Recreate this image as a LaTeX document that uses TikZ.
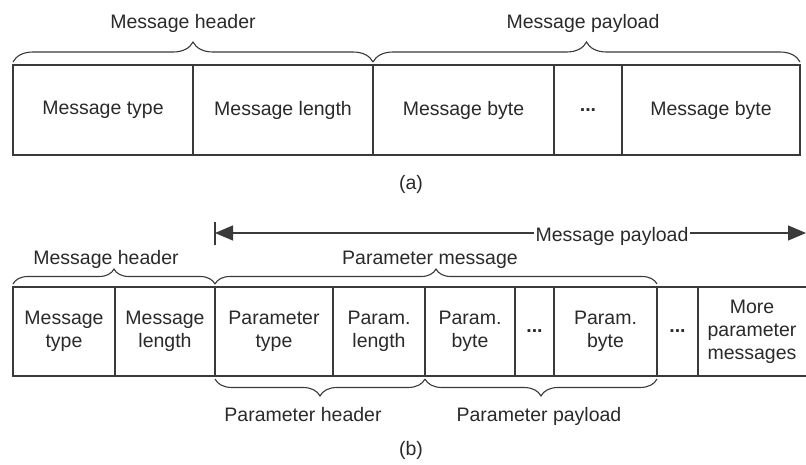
\documentclass[tikz,border=0pt]{standalone}
\usepackage{fontspec}
\setmainfont{Liberation Sans}
\usetikzlibrary{decorations.pathreplacing,arrows.meta}
\definecolor{ink}{HTML}{2A2A2A}
\definecolor{lineink}{HTML}{3A3A3A}
\begin{document}
\begin{tikzpicture}[x=1pt,y=-1pt,
  every node/.style={font=\fontsize{19.5}{23}\selectfont, text=ink},
  cell/.style={draw=lineink, line width=1.2pt, inner sep=0pt, outer sep=0pt, align=center},
  cellA/.style={cell, minimum height=90},
  cellB/.style={cell, minimum height=89},
  curly/.style={draw=lineink, line width=1.1pt, decorate,
    decoration={brace, amplitude=#1, raise=3pt, aspect=0.5}},
  lbl/.style={anchor=base, inner sep=0pt}
]
\useasboundingbox[fill=white] (0,0) rectangle (806,464);

% ---------- (a) ----------
\node[cellA, minimum width=180] (a1) at (103,110) {Message type};
\node[cellA, minimum width=180] (a2) at (283,110) {Message length};
\node[cellA, minimum width=181] (a3) at (463.5,110) {Message byte};
\node[cellA, minimum width=68]  (a4) at (588,110) {\textbf{...}};
\node[cellA, minimum width=178] (a5) at (711,110) {Message byte};

\draw[curly=20pt] (a1.north west) -- (a2.north east);
\draw[curly=20pt] (a3.north west) -- (a5.north east);
\node[lbl] (ah) at (183,28) {Message header};
\node[lbl] (ap) at (583,28) {Message payload};
\node[lbl] (la) at (411,189) {(a)};

% ---------- (b) ----------
\node[cellB, minimum width=102] (b1) at (64,331.5) {Message\\type};
\node[cellB, minimum width=100] (b2) at (165,331.5) {Message\\length};
\node[cellB, minimum width=118] (b3) at (274,331.5) {Parameter\\type};
\node[cellB, minimum width=92]  (b4) at (379,331.5) {Param.\\length};
\node[cellB, minimum width=90]  (b5) at (470,331.5) {Param.\\byte};
\node[cellB, minimum width=39]  (b6) at (534.5,331.5) {\textbf{...}};
\node[cellB, minimum width=103] (b7) at (605.5,331.5) {Param.\\byte};
\node[cellB, minimum width=41]  (b8) at (677.5,331.5) {\textbf{...}};
\node[inner sep=0pt, align=center] (b9) at (752,331.5) {More\\parameter\\messages};
\coordinate (rt) at (806,287);
\coordinate (rb) at (806,376);
\draw[lineink, line width=1.2pt] (b8.north east) -- (rt);
\draw[lineink, line width=1.2pt] (b8.south east) -- (rb);

% message payload arrow
\coordinate (pl) at (215,233);
\coordinate (pr) at (806,233);
\coordinate (tt) at (215,222);
\coordinate (tb) at (215,245);
\draw[lineink, line width=1.2pt] (tt) -- (tb);
\draw[lineink, line width=1.1pt, {Triangle[length=18pt,width=15pt]}-{Triangle[length=18pt,width=15pt]}] (pl) -- (pr);
\node[lbl, fill=white, inner xsep=2pt] (mp) at (612,241) {Message payload};

% braces above
\draw[curly=15pt] (b1.north west) -- (b2.north east);
\draw[curly=15pt] (b3.north west) -- (b7.north east);
\node[lbl] (bh) at (106,264) {Message header};
\node[lbl] (pm) at (430,264) {Parameter message};

% braces below
\draw[curly=17pt] (b4.south east) -- (b3.south west);
\draw[curly=17pt] (b7.south east) -- (b5.south west);
\node[lbl] (ph) at (303,421) {Parameter header};
\node[lbl] (pp) at (539,421) {Parameter payload};
\node[lbl] (lb) at (411,455) {(b)};
\end{tikzpicture}
\end{document}
